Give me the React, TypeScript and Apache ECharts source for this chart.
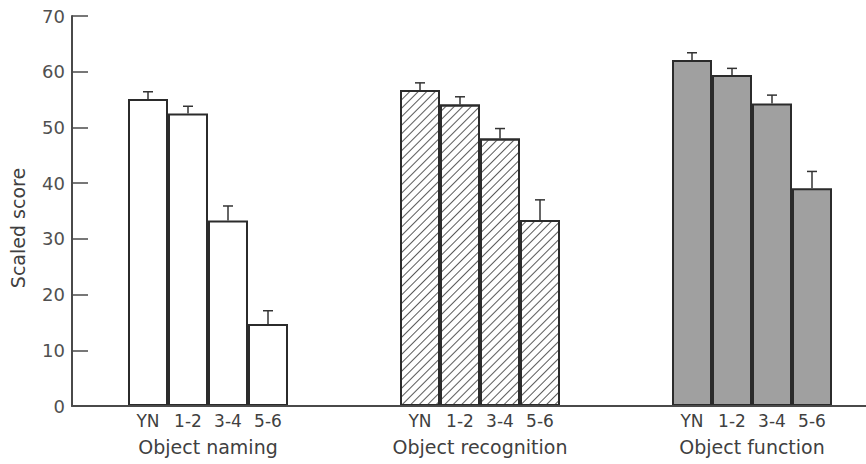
import React, { useEffect, useRef } from "react";
import * as echarts from "echarts";

const groups = ["Object naming", "Object recognition", "Object function"];
const subgroups = ["YN", "1-2", "3-4", "5-6"];
// values[subgroup][group]
const means = [
  [55.1, 56.7, 62.1],
  [52.5, 54.1, 59.4],
  [33.3, 48.0, 54.3],
  [14.7, 33.4, 39.1],
];
const upper = [
  [56.4, 58.0, 63.4],
  [53.8, 55.5, 60.6],
  [35.9, 49.8, 55.8],
  [17.1, 37.0, 42.1],
];
const yTicks = [0, 10, 20, 30, 40, 50, 60, 70];

const BAR_W = 40;
const INK = "#2b2b2b";
const TXT = "#404040";
const FONT = "DejaVu Sans";

const groupStyles: any[] = [
  { color: "#ffffff", borderColor: INK, borderWidth: 2 },
  {
    color: "#ffffff",
    borderColor: INK,
    borderWidth: 2,
    decal: {
      symbol: "rect",
      symbolSize: 1,
      dashArrayX: [1, 0],
      dashArrayY: [1, 4.8],
      rotation: -Math.PI / 4,
      color: "#5a5a5a",
    },
  },
  { color: "#a0a0a0", borderColor: INK, borderWidth: 2 },
];

export default function App() {
  const ref = useRef<HTMLDivElement>(null);
  useEffect(() => {
    if (!ref.current) return;
    const chart = echarts.init(ref.current, null, { renderer: "svg" });
    const barSeries = subgroups.map((name, k) => ({
      type: "bar",
      name,
      barWidth: BAR_W,
      barGap: "0%",
      data: means[k].map((v, g) => ({ value: v, itemStyle: groupStyles[g] })),
      label: {
        show: true,
        position: "bottom",
        distance: 6,
        formatter: name,
        fontFamily: FONT,
        fontSize: 17,
        color: TXT,
      },
      z: 2,
    }));
    const errData: number[][] = [];
    subgroups.forEach((_, k) => {
      groups.forEach((_, g) => {
        errData.push([g, upper[k][g], k, means[k][g]]);
      });
    });
    chart.setOption({
      animation: false,
      grid: {
        left: 72,
        top: 16,
        width: 816,
        bottom: 58,
        containLabel: false,
        outerBoundsMode: "none",
      },
      xAxis: {
        type: "category",
        data: groups,
        axisLine: { show: true, lineStyle: { color: "#4a4a4a", width: 2 } },
        axisTick: { show: false },
        axisLabel: {
          margin: 31,
          fontFamily: FONT,
          fontSize: 19,
          color: TXT,
        },
        z: 5,
      },
      yAxis: {
        type: "value",
        min: 0,
        max: 70,
        interval: 10,
        splitLine: { show: false },
        axisLine: { show: true, lineStyle: { color: "#4a4a4a", width: 2 } },
        axisTick: { show: true, inside: true, length: 16, lineStyle: { color: "#4a4a4a", width: 1.5 } },
        axisLabel: {
          margin: 7,
          fontFamily: FONT,
          fontSize: 18,
          color: "#505050",
          formatter: (v: number) => (yTicks.includes(v) ? String(v) : ""),
        },
      },
      graphic: [
        {
          type: "text",
          x: 18,
          y: 228,
          rotation: Math.PI / 2,
          style: {
            text: "Scaled score",
            fontFamily: FONT,
            fontSize: 19,
            fill: TXT,
            align: "center",
            verticalAlign: "middle",
          },
        },
      ],
      series: [
        ...barSeries,
        {
          type: "custom",
          data: errData,
          encode: { x: 0, y: 1 },
          z: 3,
          renderItem: (params: any, api: any) => {
            const g = api.value(0);
            const top = api.coord([g, api.value(3)]);
            const e = api.coord([g, api.value(1)]);
            const x = top[0] + (api.value(2) - 1.5) * BAR_W;
            const style = { stroke: "#333", lineWidth: 1.5 };
            return {
              type: "group",
              children: [
                { type: "line", shape: { x1: x, y1: top[1], x2: x, y2: e[1] }, style },
                { type: "line", shape: { x1: x - 5, y1: e[1], x2: x + 5, y2: e[1] }, style },
              ],
            };
          },
        },
      ],
    });
    return () => chart.dispose();
  }, []);
  return (
    <div
      ref={ref}
      style={{ position: "absolute", left: 0, top: 0, width: 866, height: 464 }}
    />
  );
}
